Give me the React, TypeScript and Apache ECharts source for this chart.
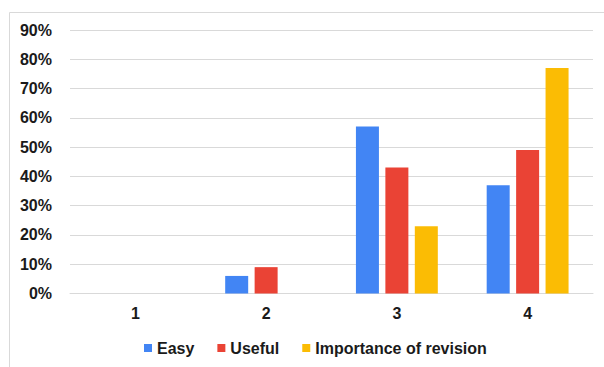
import React, { useEffect, useRef } from "react";
import * as echarts from "echarts";

const categories = ["1", "2", "3", "4"];
const easy = [0, 6, 57, 37];
const useful = [0, 9, 43, 49];
const importance = [0, 0, 23, 77];
const seriesNames = ["Easy", "Useful", "Importance of revision"];
const colors = ["#4285F4", "#EA4335", "#FBBC04"];

export default function App() {
  const ref = useRef<HTMLDivElement>(null);
  useEffect(() => {
    if (!ref.current) return;
    const chart = echarts.init(ref.current, null, { renderer: "svg" });
    const font = "Liberation Sans, Arial, sans-serif";
    const data = [easy, useful, importance];
    chart.setOption({
      animation: false,
      backgroundColor: "#ffffff",
      grid: { left: 70, right: 11, top: 30, bottom: 73.5, containLabel: false },
      graphic: [
        { type: "line", shape: { x1: 9.5, y1: 12.5, x2: 604, y2: 12.5 }, style: { stroke: "#d9d9d9", lineWidth: 1 } },
        { type: "line", shape: { x1: 9.5, y1: 12.5, x2: 9.5, y2: 367 }, style: { stroke: "#d9d9d9", lineWidth: 1 } },
      ],
      legend: {
        bottom: 6,
        left: 139,
        icon: "rect",
        itemWidth: 8,
        itemHeight: 8,
        itemGap: 23,
        textStyle: { fontFamily: font, fontWeight: "bold", fontSize: 16, color: "#1a1a1a" },
        data: seriesNames,
      },
      xAxis: {
        type: "category",
        data: categories,
        axisLine: { show: true, lineStyle: { color: "#d9d9d9" } },
        axisTick: { show: false },
        axisLabel: { fontFamily: font, fontWeight: "bold", fontSize: 16, color: "#1a1a1a", margin: 12 },
      },
      yAxis: {
        type: "value",
        min: 0,
        max: 90,
        interval: 10,
        axisLine: { show: false },
        axisTick: { show: false },
        splitLine: { lineStyle: { color: "#d9d9d9", width: 1 } },
        axisLabel: { fontFamily: font, fontWeight: "bold", fontSize: 16, color: "#1a1a1a", margin: 18, formatter: "{value}%" },
      },
      series: seriesNames.map((name, i) => ({
        name,
        type: "bar",
        data: data[i],
        barWidth: 23,
        barGap: "28%",
        itemStyle: { color: colors[i] },
      })),
    });
    return () => chart.dispose();
  }, []);
  return (
    <div
      ref={ref}
      style={{ position: "fixed", left: 0, top: 0, width: 604, height: 367 }}
    />
  );
}
